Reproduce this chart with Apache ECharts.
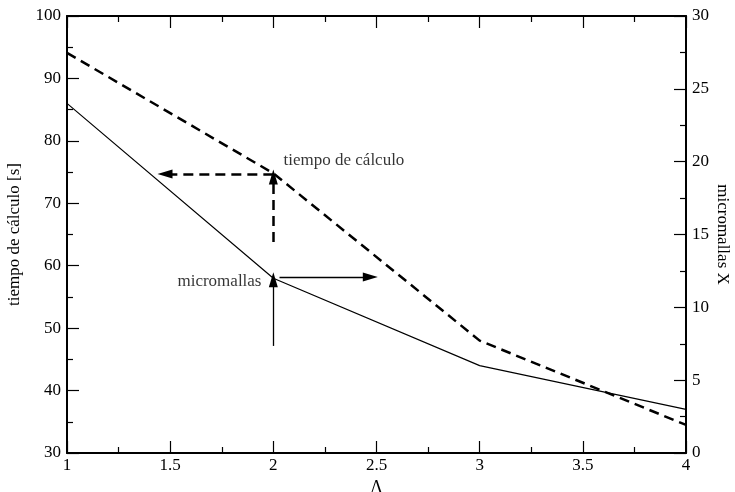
<!DOCTYPE html>
<html>
<head>
<meta charset="utf-8">
<script src="https://cdn.jsdelivr.net/npm/echarts@6/dist/echarts.min.js"></script>
<style>
  html, body { margin: 0; padding: 0; background: #fff; }
  #chart { width: 735px; height: 492px; }
</style>
</head>
<body>
<div id="chart"></div>
<script>
// Lambda values along the x axis
const lambda = [1, 2, 3, 4];
// Computation time [s] (left axis, dashed)
const tiempo = [94.1, 74.8, 48, 34.5];
// Number of micro-meshes X (right axis, solid)
const micromallas = [24, 12, 6, 3];

// Annotation arrows in data coordinates: [x0, y0] -> [x1, y1]
const arrowTiempoH = [[2, 74.7], [1.475, 74.7]];
const arrowTiempoV = [[2, 63.8], [2, 74.2]];
const arrowMallasH = [[2.03, 12.08], [2.47, 12.08]];
const arrowMallasV = [[2, 7.35], [2, 11.9]];

// Annotation labels in data coordinates
const labelTiempo = { text: 'tiempo de cálculo', at: [2.047, 76.9] };
const labelMallas = { text: 'micromallas', at: [1.945, 11.8] };

const FONT = 'Liberation Serif';
const INK = '#000';

const chart = echarts.init(document.getElementById('chart'), null, { renderer: 'canvas' });

const axisText = { fontFamily: FONT, fontSize: 17, color: INK };
const baseTick = { show: true, inside: true, length: 12, lineStyle: { color: INK, width: 1.2 } };
const baseMinor = { show: true, splitNumber: 2, length: 6, lineStyle: { color: INK, width: 1.2 } };
const baseLine = { show: true, onZero: false, lineStyle: { color: INK, width: 2 } };

function arrow(coords, dashed, width) {
  return {
    silent: true,
    symbol: ['none', 'triangle'],
    symbolSize: [9, 15],
    label: { show: false },
    lineStyle: { color: INK, width: width, type: dashed ? [10, 6] : 'solid' },
    emphasis: { disabled: true },
    data: [[{ coord: coords[0] }, { coord: coords[1] }]]
  };
}

// Text annotation drawn as an invisible scatter point with a label
function textSeries(lbl, yAxisIndex, side) {
  return {
    type: 'scatter', xAxisIndex: 0, yAxisIndex: yAxisIndex, silent: true,
    symbolSize: 1,
    itemStyle: { color: 'rgba(0,0,0,0)' },
    data: [lbl.at],
    label: {
      show: true,
      position: side,
      distance: 0,
      formatter: lbl.text,
      fontFamily: FONT,
      fontSize: 17,
      color: INK,
      textBorderWidth: 0
    },
    emphasis: { disabled: true }
  };
}

chart.setOption({
  animation: false,
  backgroundColor: '#fff',
  grid: { left: 67, right: 49, top: 16, bottom: 39, containLabel: false, outerBoundsMode: 'none' },
  xAxis: [
    {
      type: 'value', min: 1, max: 4, interval: 0.5,
      name: 'Λ', nameLocation: 'middle', nameGap: 24,
      nameTextStyle: { fontFamily: FONT, fontSize: 18, color: INK },
      axisLine: baseLine, axisTick: baseTick, minorTick: baseMinor,
      splitLine: { show: false },
      axisLabel: Object.assign({ margin: 4 }, axisText)
    },
    {
      type: 'value', min: 1, max: 4, interval: 0.5, position: 'top',
      axisLine: baseLine, axisTick: baseTick, minorTick: baseMinor,
      splitLine: { show: false }, axisLabel: { show: false }
    }
  ],
  yAxis: [
    {
      type: 'value', min: 30, max: 100, interval: 10, position: 'left',
      name: 'tiempo de cálculo [s]', nameLocation: 'middle', nameGap: 44,
      nameTextStyle: { fontFamily: FONT, fontSize: 17, color: INK },
      axisLine: baseLine, axisTick: baseTick, minorTick: baseMinor,
      splitLine: { show: false },
      axisLabel: Object.assign({ margin: 6 }, axisText)
    },
    {
      type: 'value', min: 0, max: 30, interval: 5, position: 'right',
      name: 'micromallas X', nameLocation: 'middle', nameGap: 28, nameRotate: -90,
      nameMoveOverlap: false,
      nameTextStyle: { fontFamily: FONT, fontSize: 17, color: INK },
      axisLine: baseLine, axisTick: baseTick, minorTick: baseMinor,
      splitLine: { show: false },
      axisLabel: Object.assign({ margin: 6 }, axisText)
    }
  ],
  series: [
    {
      type: 'line', name: 'tiempo', xAxisIndex: 0, yAxisIndex: 0,
      data: lambda.map((x, i) => [x, tiempo[i]]),
      showSymbol: false, symbol: 'none', silent: true,
      lineStyle: { color: INK, width: 2.5, type: [10, 6] },
      markLine: arrow(arrowTiempoH, true, 2.5)
    },
    {
      type: 'line', name: 'tiempo-v', xAxisIndex: 0, yAxisIndex: 0,
      data: [], silent: true,
      markLine: arrow(arrowTiempoV, true, 2.5)
    },
    {
      type: 'line', name: 'micromallas', xAxisIndex: 0, yAxisIndex: 1,
      data: lambda.map((x, i) => [x, micromallas[i]]),
      showSymbol: false, symbol: 'none', silent: true,
      lineStyle: { color: INK, width: 1.2 },
      markLine: arrow(arrowMallasH, false, 1.3)
    },
    {
      type: 'line', name: 'micromallas-v', xAxisIndex: 0, yAxisIndex: 1,
      data: [], silent: true,
      markLine: arrow(arrowMallasV, false, 1.3)
    },
    textSeries(labelTiempo, 0, 'right'),
    textSeries(labelMallas, 1, 'left')
  ]
});
</script>
</body>
</html>
